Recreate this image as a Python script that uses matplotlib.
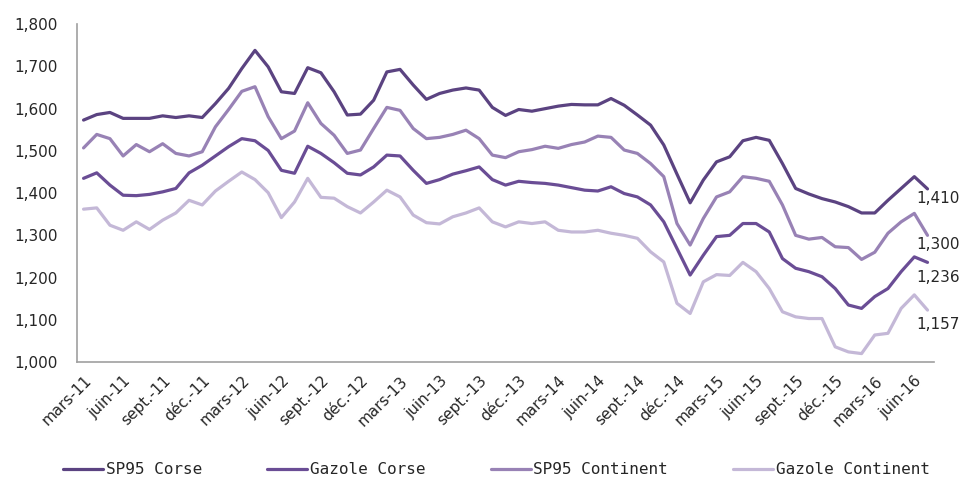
import matplotlib
matplotlib.use("Agg")
import matplotlib.pyplot as plt
from matplotlib.ticker import FuncFormatter, MultipleLocator

# ---------------- data ----------------
month_abbr = ["janv.", "févr.", "mars", "avr.", "mai", "juin",
              "juil.", "août", "sept.", "oct.", "nov.", "déc."]
start_year, start_month, n_months = 2011, 3, 65
categories = []
for k in range(n_months):
    m = (start_month - 1 + k) % 12
    y = start_year + (start_month - 1 + k) // 12
    categories.append(f"{month_abbr[m]}-{y % 100:02d}")

sp95_corse = [1573, 1586, 1591, 1577, 1577, 1577, 1583, 1579, 1583, 1579,
              1612, 1648, 1695, 1738, 1699, 1640, 1636, 1697, 1685, 1640,
              1585, 1587, 1620, 1687, 1693, 1656, 1622, 1636, 1644, 1649,
              1644, 1603, 1584, 1598, 1594, 1600, 1606, 1610, 1609, 1609,
              1624, 1608, 1585, 1561, 1514, 1445, 1377, 1431, 1474, 1486,
              1524, 1532, 1525, 1470, 1411, 1398, 1387, 1379, 1368, 1353,
              1353, 1383, 1411, 1439, 1410]
gazole_corse = [1435, 1448, 1419, 1395, 1394, 1397, 1403, 1411, 1448, 1466,
                1488, 1510, 1529, 1524, 1501, 1454, 1447, 1511, 1494, 1472,
                1447, 1443, 1462, 1490, 1488, 1454, 1423, 1432, 1445, 1453,
                1462, 1432, 1419, 1428, 1425, 1423, 1419, 1413, 1407, 1405,
                1415, 1399, 1391, 1372, 1332, 1269, 1206, 1253, 1297, 1300,
                1328, 1328, 1308, 1245, 1222, 1214, 1202, 1174, 1135, 1127,
                1155, 1174, 1214, 1249, 1236]
sp95_continent = [1507, 1539, 1529, 1488, 1515, 1498, 1517, 1494, 1488, 1498,
                  1557, 1598, 1641, 1652, 1581, 1529, 1547, 1614, 1565, 1537,
                  1494, 1502, 1553, 1603, 1596, 1553, 1529, 1532, 1539, 1549,
                  1529, 1490, 1484, 1498, 1503, 1511, 1506, 1515, 1521, 1535,
                  1532, 1502, 1494, 1470, 1439, 1328, 1277, 1340, 1391, 1403,
                  1439, 1435, 1428, 1372, 1300, 1291, 1295, 1273, 1271, 1243,
                  1260, 1305, 1332, 1352, 1300]
gazole_continent = [1362, 1365, 1324, 1312, 1332, 1314, 1336, 1353, 1383, 1372,
                    1405, 1428, 1450, 1432, 1401, 1342, 1379, 1435, 1390, 1388,
                    1368, 1353, 1379, 1407, 1391, 1348, 1330, 1327, 1344, 1353,
                    1365, 1332, 1320, 1332, 1328, 1332, 1312, 1308, 1308, 1312,
                    1305, 1300, 1293, 1261, 1237, 1139, 1115, 1190, 1207, 1205,
                    1236, 1214, 1174, 1119, 1107, 1103, 1103, 1036, 1024, 1020,
                    1064, 1068, 1127, 1159, 1123]

series_names = ["SP95 Corse", "Gazole Corse", "SP95 Continent", "Gazole Continent"]
series_values = [sp95_corse, gazole_corse, sp95_continent, gazole_continent]
end_labels = ["1,410", "1,236", "1,300", "1,157"]

# ---------------- style ----------------
colors = ["#5B4381", "#6A4D95", "#9882B5", "#C4B8D7"]
label_dy = [-10, -15, -9, -14]   # pixel offsets of end labels
text_color = "#262626"
spine_color = "#A0A0A0"

plt.rcParams["font.family"] = ["DejaVu Sans"]

fig = plt.figure(figsize=(9.62, 4.84), dpi=100)
ax = fig.add_axes([0.080, 0.252, 0.891, 0.698])

x = list(range(len(categories)))
lines = []
for name, vals, c in zip(series_names, series_values, colors):
    (ln,) = ax.plot(x, [v / 1000 for v in vals], color=c, lw=2.3,
                    solid_joinstyle="round", solid_capstyle="round", label=name)
    lines.append(ln)

for vals, lab, dy, c in zip(series_values, end_labels, label_dy, colors):
    ax.annotate(lab, xy=(x[-1], vals[-1] / 1000), xytext=(-11 * 0.72, dy * 0.72),
                textcoords="offset points", ha="left", va="center",
                fontsize=11, color=text_color, annotation_clip=False)

ax.set_xlim(-0.5, len(categories) - 0.5)
ax.set_ylim(1.0, 1.8)
ax.yaxis.set_major_locator(MultipleLocator(0.1))
ax.yaxis.set_major_formatter(FuncFormatter(lambda v, p: f"{v:.3f}".replace(".", ",")))

tick_pos = x[::3]
ax.set_xticks(tick_pos)
ax.set_xticklabels([categories[i] for i in tick_pos], rotation=45,
                   ha="right", va="top", rotation_mode="anchor")

ax.tick_params(axis="both", length=0, labelsize=11, colors=text_color)
ax.tick_params(axis="y", pad=14)
ax.tick_params(axis="x", pad=8)

for s in ["top", "right"]:
    ax.spines[s].set_visible(False)
for s in ["left", "bottom"]:
    ax.spines[s].set_color(spine_color)
    ax.spines[s].set_linewidth(1.2)

leg = fig.legend(handles=lines, labels=series_names, loc="center",
                 bbox_to_anchor=(0.516, 0.029), ncol=4, frameon=False,
                 prop={"family": "DejaVu Sans Mono", "size": 11.5},
                 handlelength=2.5, handletextpad=0.15, columnspacing=4.1)
for t in leg.get_texts():
    t.set_color(text_color)

fig.savefig("out.png", dpi=100)
